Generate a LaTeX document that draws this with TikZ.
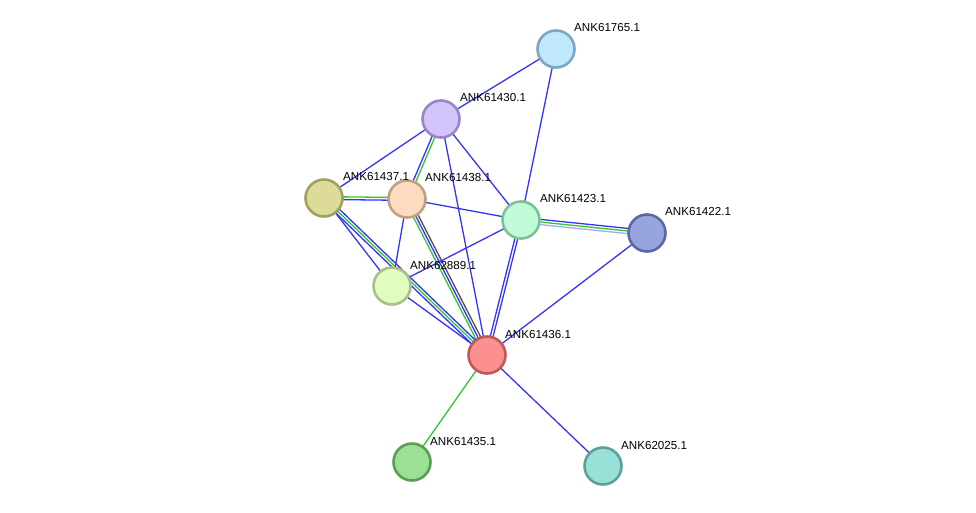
\documentclass[tikz,border=0pt]{standalone}
\usepackage{fontspec}
\setmainfont{Liberation Sans}
\usetikzlibrary{calc,backgrounds}
\pgfdeclarelayer{edgelayer}
\pgfsetlayers{background,edgelayer,main}
\definecolor{eblue}{HTML}{3535F5}
\definecolor{egreen}{HTML}{33C633}
\definecolor{egray}{HTML}{505050}
\definecolor{elav}{HTML}{A8A8F8}
\tikzset{
  prot/.style={circle,minimum size=37pt,inner sep=0pt,line width=2.6pt},
  lbl/.style={anchor=west,inner sep=0pt,font=\fontsize{11.6}{13}\selectfont,text=black},
  eline/.style={line width=1.3pt}
}
\newcommand{\stredge}[4]{%
  \draw[eline,#4] ($(#1)!#3pt!90:(#2)$) -- ($(#2)!#3pt!-90:(#1)$);}
\begin{document}
\begin{tikzpicture}[x=1pt,y=-1pt]
\begin{pgfonlayer}{background}
\fill[white] (0,0) rectangle (976,512);
\end{pgfonlayer}
\useasboundingbox (0,0) rectangle (976,512);
% nodes
\node[prot,draw={rgb,255:red,124;green,166;blue,198},fill={rgb,255:red,192;green,232;blue,252}] (n65) at (556,49) {};
\node[prot,draw={rgb,255:red,154;green,134;blue,198},fill={rgb,255:red,212;green,196;blue,252}] (n30) at (441,119) {};
\node[prot,draw={rgb,255:red,160;green,160;blue,96},fill={rgb,255:red,220;green,220;blue,152}] (n37) at (324,198) {};
\node[prot,draw={rgb,255:red,192;green,160;blue,128},fill={rgb,255:red,252;green,220;blue,192}] (n38) at (407,199) {};
\node[prot,draw={rgb,255:red,128;green,192;blue,152},fill={rgb,255:red,192;green,252;blue,216}] (n23) at (521,220) {};
\node[prot,draw={rgb,255:red,92;green,104;blue,164},fill={rgb,255:red,152;green,164;blue,224}] (n22) at (647,233) {};
\node[prot,draw={rgb,255:red,168;green,192;blue,136},fill={rgb,255:red,224;green,252;blue,192}] (n89) at (392,286) {};
\node[prot,draw={rgb,255:red,192;green,88;blue,88},fill={rgb,255:red,252;green,144;blue,144}] (n36) at (487,355) {};
\node[prot,draw={rgb,255:red,92;green,156;blue,84},fill={rgb,255:red,156;green,224;blue,148}] (n35) at (412,462) {};
\node[prot,draw={rgb,255:red,92;green,160;blue,156},fill={rgb,255:red,152;green,224;blue,216}] (n25) at (603,466) {};
% labels
\node[lbl] (l65) at ($(n65)+(18,-21)$) {ANK61765.1};
\node[lbl] (l30) at ($(n30)+(19,-21)$) {ANK61430.1};
\node[lbl] (l37) at ($(n37)+(19,-21)$) {ANK61437.1};
\node[lbl] (l38) at ($(n38)+(18,-21)$) {ANK61438.1};
\node[lbl] (l23) at ($(n23)+(19,-21)$) {ANK61423.1};
\node[lbl] (l22) at ($(n22)+(18,-21)$) {ANK61422.1};
\node[lbl] (l89) at ($(n89)+(18,-21)$) {ANK62889.1};
\node[lbl] (l36) at ($(n36)+(18,-21)$) {ANK61436.1};
\node[lbl] (l35) at ($(n35)+(18,-21)$) {ANK61435.1};
\node[lbl] (l25) at ($(n25)+(18,-21)$) {ANK62025.1};
% edges
\begin{pgfonlayer}{edgelayer}
\stredge{n65}{n30}{0}{eblue}
\stredge{n65}{n23}{0}{eblue}
\stredge{n30}{n37}{0}{eblue}
\stredge{n30}{n38}{-1.4}{eblue}
\stredge{n30}{n38}{1.4}{egreen}
\stredge{n30}{n23}{0}{eblue}
\stredge{n30}{n36}{0}{eblue}
\stredge{n37}{n38}{1.4}{egreen}
\stredge{n37}{n38}{-1.4}{eblue}
\stredge{n37}{n89}{0}{eblue}
\stredge{n37}{n36}{-2.6}{eblue}
\stredge{n37}{n36}{0}{egreen}
\stredge{n37}{n36}{2.6}{eblue}
\stredge{n38}{n36}{-2.6}{egreen}
\stredge{n38}{n36}{0}{eblue}
\stredge{n38}{n36}{2.6}{egray}
\stredge{n38}{n89}{0}{eblue}
\stredge{n38}{n23}{0}{eblue}
\stredge{n23}{n22}{2.6}{eblue}
\stredge{n23}{n22}{0}{egreen}
\stredge{n23}{n22}{-2.6}{elav}
\stredge{n23}{n89}{0}{eblue}
\stredge{n23}{n36}{1.4}{eblue}
\stredge{n23}{n36}{-1.4}{eblue}
\stredge{n22}{n36}{0}{eblue}
\stredge{n89}{n36}{0}{eblue}
\stredge{n36}{n35}{0}{egreen}
\stredge{n36}{n25}{0}{eblue}
\end{pgfonlayer}
\end{tikzpicture}
\end{document}
